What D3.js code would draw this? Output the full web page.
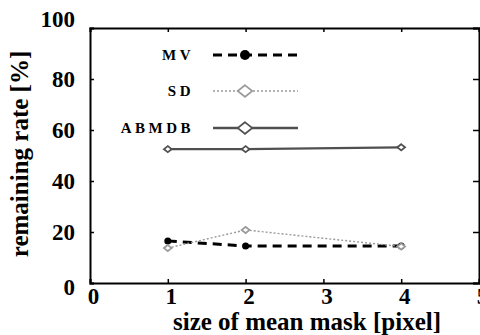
<!DOCTYPE html>
<html>
<head>
<meta charset="utf-8">
<script src="https://cdn.jsdelivr.net/npm/d3@7"></script>
<style>
    body { margin: 0; background: #fff; }
    svg { display: block; font-family: "Liberation Serif", "Times New Roman", serif; font-weight: bold; }
    .tick text { font-family: "Liberation Serif", serif; font-weight: bold; }
</style>
</head>
<body>
<svg id="chart" width="480" height="335"></svg>
<script>
"use strict";

const maskSizes = [1, 2, 4],
    mvRates = [16.5, 14.5, 14.5],
    sdRates = [13.7, 20.8, 14.3],
    abmdbRates = [52.5, 52.5, 53.2],
    xTicks = [0, 1, 2, 3, 4, 5],
    yTicks = [0, 20, 40, 60, 80, 100],
    seriesNames = ["MV", "SD", "ABMDB"];

{
    const svg = d3.select("#chart"),
        left = 90, right = 479, top = 28, bottom = 283;

    const x = d3.scaleLinear().domain([0, 5]).range([left, right]);
    const y = d3.scaleLinear().domain([0, 100]).range([bottom, top]);

    const series = [
        { name: seriesNames[0], values: mvRates, stroke: "#000", width: 3, dash: "9,6", marker: "dot" },
        { name: seriesNames[1], values: sdRates, stroke: "#9a9a9a", width: 1.4, dash: "2,2", marker: "diamond" },
        { name: seriesNames[2], values: abmdbRates, stroke: "#505050", width: 2.4, dash: null, marker: "diamond" }
    ];

    // frame with inward ticks on all four sides
    const gx = svg.append("g")
        .attr("transform", `translate(0,${bottom})`)
        .call(d3.axisBottom(x).tickValues(xTicks).tickSize(-4).tickPadding(5).tickFormat(d3.format("d")));
    svg.append("g")
        .attr("transform", `translate(0,${top})`)
        .call(d3.axisTop(x).tickValues(xTicks).tickSize(-4).tickFormat(""));
    const gy = svg.append("g")
        .attr("transform", `translate(${left},0)`)
        .call(d3.axisLeft(y).tickValues(yTicks).tickSize(-4).tickPadding(15).tickFormat(d3.format("d")));
    svg.append("g")
        .attr("transform", `translate(${right},0)`)
        .call(d3.axisRight(y).tickValues(yTicks).tickSize(-6).tickFormat(""));

    svg.selectAll("g")
        .attr("font-family", "Liberation Serif")
        .attr("font-size", 23);
    svg.selectAll(".domain").attr("stroke", "#000").attr("stroke-width", 2);
    svg.selectAll(".tick line").attr("stroke", "#000").attr("stroke-width", 1.5);
    svg.selectAll(".tick text").attr("fill", "#000");
    gx.selectAll(".tick text").attr("dx", 3);
    gy.selectAll(".tick text").attr("dy", d => d === 100 ? "-0.05em" : d === 0 ? "0.5em" : "0.32em");

    // axis titles
    svg.append("text")
        .attr("x", 307).attr("y", 330)
        .attr("text-anchor", "middle")
        .style("font-size", "25px")
        .text("size of mean mask [pixel]");
    svg.append("text")
        .attr("transform", "translate(28,154) rotate(-90)")
        .attr("text-anchor", "middle")
        .style("font-size", "25px")
        .text("remaining rate [%]");

    const line = d3.line()
        .x((d, i) => x(maskSizes[i]))
        .y(d => y(d));

    const diamond = d3.symbol().type(d3.symbolDiamond2);

    function drawMarker(g, s, cx, cy, size) {
        if (s.marker === "dot") {
            g.append("circle")
                .attr("cx", cx).attr("cy", cy).attr("r", size / 2)
                .attr("fill", s.stroke);
        } else {
            g.append("path")
                .attr("d", diamond.size(size * size * 0.5)())
                .attr("transform", `translate(${cx},${cy}) scale(1.25,1)`)
                .attr("fill", "#fff")
                .attr("stroke", s.stroke)
                .attr("stroke-width", 1.6);
        }
    }

    const plot = svg.append("g");
    series.forEach(s => {
        plot.append("path")
            .attr("d", line(s.values))
            .attr("fill", "none")
            .attr("stroke", s.stroke)
            .attr("stroke-width", s.width)
            .attr("stroke-dasharray", s.dash);
        s.values.forEach((v, i) => drawMarker(plot, s, x(maskSizes[i]), y(v), 7));
    });

    // legend
    const legendY = [55, 91, 128];
    const legend = svg.append("g");
    series.forEach((s, i) => {
        legend.append("text")
            .attr("x", 194).attr("y", legendY[i] + 5)
            .attr("text-anchor", "end")
            .style("font-size", "15px")
            .style("letter-spacing", "3.5px")
            .text(s.name);
        legend.append("line")
            .attr("x1", 213).attr("x2", 298)
            .attr("y1", legendY[i]).attr("y2", legendY[i])
            .attr("stroke", s.stroke)
            .attr("stroke-width", s.width)
            .attr("stroke-dasharray", s.dash);
        drawMarker(legend, s, 245, legendY[i], s.marker === "dot" ? 10 : 13);
    });
}
</script>
</body>
</html>
